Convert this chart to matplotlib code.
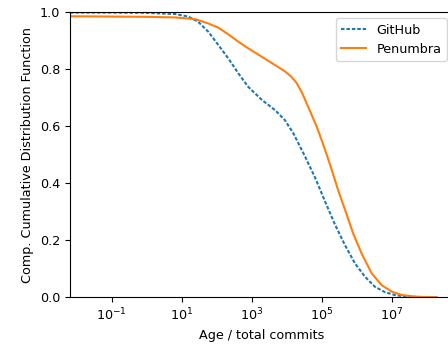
import numpy as np
import matplotlib
matplotlib.use("Agg")
import matplotlib.pyplot as plt
from matplotlib.ticker import NullLocator

# === Data (log10 of age / total commits, CCDF value) ===
github_log_x = [-2.19, -1.0, 0.0, 0.81, 1.19, 1.47, 1.76, 2.05, 2.33, 2.62,
                2.90, 3.29, 3.67, 3.95, 4.19, 4.52, 4.81, 5.09, 5.38, 5.67,
                5.95, 6.24, 6.52, 6.81, 7.09, 7.38, 7.8, 8.3]
github_ccdf = [0.998, 0.998, 0.997, 0.993, 0.984, 0.966, 0.931, 0.884, 0.838,
               0.785, 0.738, 0.692, 0.656, 0.621, 0.575, 0.495, 0.42, 0.338,
               0.255, 0.182, 0.119, 0.072, 0.037, 0.018, 0.008, 0.003, 0.001,
               0.0]

penumbra_log_x = [-2.19, -1.0, 0.0, 0.81, 1.38, 1.76, 2.05, 2.33, 2.62, 2.90,
                  3.29, 3.67, 3.95, 4.12, 4.28, 4.42, 4.55, 4.86, 5.09, 5.29,
                  5.47, 5.67, 5.90, 6.14, 6.43, 6.71, 7.0, 7.29, 7.7, 8.29]
penumbra_ccdf = [0.985, 0.984, 0.983, 0.981, 0.975, 0.96, 0.945, 0.922, 0.896,
                 0.873, 0.843, 0.814, 0.792, 0.775, 0.752, 0.722, 0.686, 0.598,
                 0.520, 0.446, 0.376, 0.306, 0.224, 0.154, 0.084, 0.043, 0.020,
                 0.008, 0.002, 0.0]

xtick_vals = [1e-1, 1e1, 1e3, 1e5, 1e7]

plt.rcParams['font.size'] = 9.2

# === Plot ===
fig = plt.figure(figsize=(4.48, 3.45), dpi=100)
ax = fig.add_axes([70 / 448, 47.7 / 345, 383 / 448, 285.3 / 345])

ax.plot(10 ** np.array(github_log_x), github_ccdf, color='tab:blue',
        linestyle=(0, (1.7, 0.9)), lw=1.5, label='GitHub')
ax.plot(10 ** np.array(penumbra_log_x), penumbra_ccdf, '-', color='tab:orange',
        lw=1.5, label='Penumbra')

ax.set_xscale('log')
ax.set_xlim(10 ** -2.19, 10 ** (-2.19 + 383 / 35))
ax.set_ylim(0, 1)
ax.set_xticks(xtick_vals)
ax.xaxis.set_minor_locator(NullLocator())
ax.set_yticks([0.0, 0.2, 0.4, 0.6, 0.8, 1.0])

ax.set_xlabel("Age / total commits")
ax.set_ylabel("Comp. Cumulative Distribution Function")
ax.legend(loc='upper right')

fig.savefig("out.png", dpi=100)
